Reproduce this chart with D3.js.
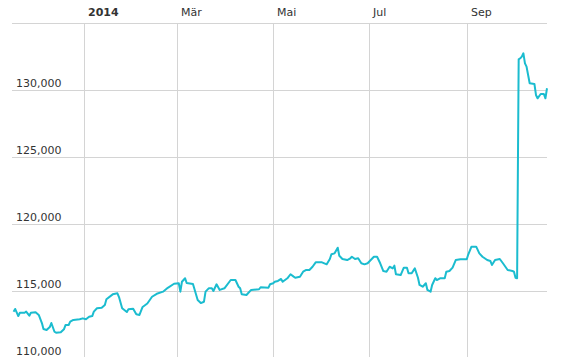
<!DOCTYPE html>
<html>
<head>
<meta charset="utf-8">
<script src="https://cdn.jsdelivr.net/npm/d3@7"></script>
<style>
body{margin:0;background:#fff;}
text{font-family:"DejaVu Sans",Verdana,sans-serif;font-size:11px;fill:#333;}
</style>
</head>
<body>
<div id="container"></div>
<script>
var dates = ["2013-11-17","2013-11-18","2013-11-20","2013-11-21","2013-11-24","2013-11-25","2013-11-27","2013-11-28",
"2013-12-01","2013-12-03","2013-12-05","2013-12-06","2013-12-08","2013-12-10","2013-12-11","2013-12-13","2013-12-14",
"2013-12-17","2013-12-19","2013-12-20","2013-12-22","2013-12-23","2013-12-25","2013-12-29","2013-12-31",
"2014-01-02","2014-01-04","2014-01-06","2014-01-07","2014-01-09","2014-01-12","2014-01-14","2014-01-15","2014-01-19",
"2014-01-22","2014-01-23","2014-01-25","2014-01-28","2014-01-29","2014-02-01","2014-02-03","2014-02-05","2014-02-07",
"2014-02-10","2014-02-13","2014-02-16","2014-02-20","2014-02-23","2014-02-27","2014-03-02","2014-03-03","2014-03-04",
"2014-03-06","2014-03-07","2014-03-11","2014-03-14","2014-03-15","2014-03-16","2014-03-18","2014-03-19","2014-03-21",
"2014-03-23","2014-03-24","2014-03-26","2014-03-28","2014-03-31","2014-04-04","2014-04-07","2014-04-09","2014-04-10",
"2014-04-11","2014-04-14","2014-04-15","2014-04-17","2014-04-22","2014-04-23","2014-04-28","2014-04-29","2014-05-01",
"2014-05-02","2014-05-04","2014-05-06","2014-05-07","2014-05-10","2014-05-12","2014-05-14","2014-05-15","2014-05-18",
"2014-05-20","2014-05-22","2014-05-24","2014-05-26","2014-05-28","2014-06-01","2014-06-04","2014-06-06","2014-06-07",
"2014-06-09","2014-06-11","2014-06-12","2014-06-14","2014-06-17","2014-06-19","2014-06-20","2014-06-22","2014-06-24",
"2014-06-26","2014-06-28","2014-06-30","2014-07-04","2014-07-06","2014-07-08","2014-07-10","2014-07-12","2014-07-14",
"2014-07-16","2014-07-17","2014-07-18","2014-07-21","2014-07-23","2014-07-25","2014-07-26","2014-07-28","2014-07-30",
"2014-08-01","2014-08-02","2014-08-04","2014-08-06","2014-08-07","2014-08-09","2014-08-10","2014-08-12","2014-08-13",
"2014-08-15","2014-08-18","2014-08-19","2014-08-21","2014-08-23","2014-08-25","2014-08-28","2014-09-01","2014-09-02",
"2014-09-04","2014-09-07","2014-09-09","2014-09-11","2014-09-14","2014-09-16","2014-09-17","2014-09-19","2014-09-22",
"2014-09-24","2014-09-27","2014-09-30","2014-10-01","2014-10-02","2014-10-03","2014-10-04","2014-10-05","2014-10-06",
"2014-10-07","2014-10-08","2014-10-09","2014-10-10","2014-10-11","2014-10-14","2014-10-15","2014-10-16","2014-10-18",
"2014-10-20","2014-10-21","2014-10-22"]

var values = [113460,113660,113130,113380,113380,113460,113160,113380,
113410,113210,112610,112160,112090,112310,112610,111960,111890,
111920,112140,112460,112460,112710,112840,112890,112960,
112890,113080,113130,113460,113710,113750,113960,114380,114750,
114830,114550,113710,113430,113630,113680,113260,113210,113810,
114070,114570,114790,114950,115240,115540,115580,114950,115690,
115950,115600,115520,114330,114220,114100,114200,114950,115200,
115200,115000,115500,115080,115200,115820,115820,115320,115200,
114750,114700,114830,115080,115130,115280,115250,115500,115580,
115690,115750,115900,115690,115950,116250,116070,115990,116070,
116440,116570,116570,116810,117140,117140,116990,117390,117740,
117810,118230,117630,117390,117310,117440,117560,117390,117440,
117070,116990,117070,117560,117560,117070,116490,116440,116810,
116690,116890,116250,116190,116740,116740,116320,116320,116690,
115990,115450,115320,115580,115080,114950,115450,115950,115820,
115950,115950,116440,116490,116740,117310,117370,117370,117740,
118310,118310,117810,117560,117310,117240,116940,117310,117390,
117070,116570,116490,116440,115990,115950,132290,132370,132490,
132740,131990,131740,131120,130500,130450,129630,129380,129700,
129700,129380,130130]

var tickDates = ["2014-01-01","2014-03-01","2014-05-01","2014-07-01","2014-09-01"]
var tickLabels = ["2014","Mär","Mai","Jul","Sep"]
var yTicks = [110000,115000,120000,125000,130000,135000]

var w = 587
var h = 357
var parse = d3.utcParse("%Y-%m-%d")

var data = dates.map(function(d,i){return {date:parse(d),value:values[i]}})

var xScale = d3.scaleUtc().domain([parse("2013-11-16"),parse("2014-10-22")]).range([12,547])
var yScale = d3.scaleLinear().domain([110000,135000]).range([358,23])

var svg = d3.select("#container").append("svg").attr("width",w).attr("height",h)

// horizontal grid + labels
svg.selectAll(".hgrid").data(yTicks).enter().append("line")
    .attr("class","hgrid")
    .attr("x1",12).attr("x2",547)
    .attr("y1",function(d){return Math.round(yScale(d))+0.5})
    .attr("y2",function(d){return Math.round(yScale(d))+0.5})
    .attr("stroke","#d4d4d4").attr("stroke-width",1)

svg.selectAll(".ylab").data(yTicks.slice(0,5)).enter().append("text")
    .attr("class","ylab")
    .attr("x",16)
    .attr("y",function(d){return Math.round(yScale(d))-3})
    .text(function(d){return d3.format(",")(d)})

// vertical grid + month labels
svg.selectAll(".vgrid").data(tickDates).enter().append("line")
    .attr("class","vgrid")
    .attr("x1",function(d){return Math.round(xScale(parse(d)))+0.5})
    .attr("x2",function(d){return Math.round(xScale(parse(d)))+0.5})
    .attr("y1",23).attr("y2",h)
    .attr("stroke","#d4d4d4").attr("stroke-width",1)

svg.selectAll(".xlab").data(tickDates).enter().append("text")
    .attr("class","xlab")
    .attr("x",function(d){return Math.round(xScale(parse(d)))+4})
    .attr("y",16)
    .style("font-weight",function(d,i){return i==0?"bold":"normal"})
    .text(function(d,i){return tickLabels[i]})

svg.append("path")
    .attr("fill","none")
    .attr("stroke","#1bbccf")
    .attr("stroke-width",2)
    .attr("stroke-linejoin","round")
    .attr("d",d3.line()
        .x(function(d){return xScale(d.date)})
        .y(function(d){return yScale(d.value)})
        (data))
</script>
</body>
</html>
